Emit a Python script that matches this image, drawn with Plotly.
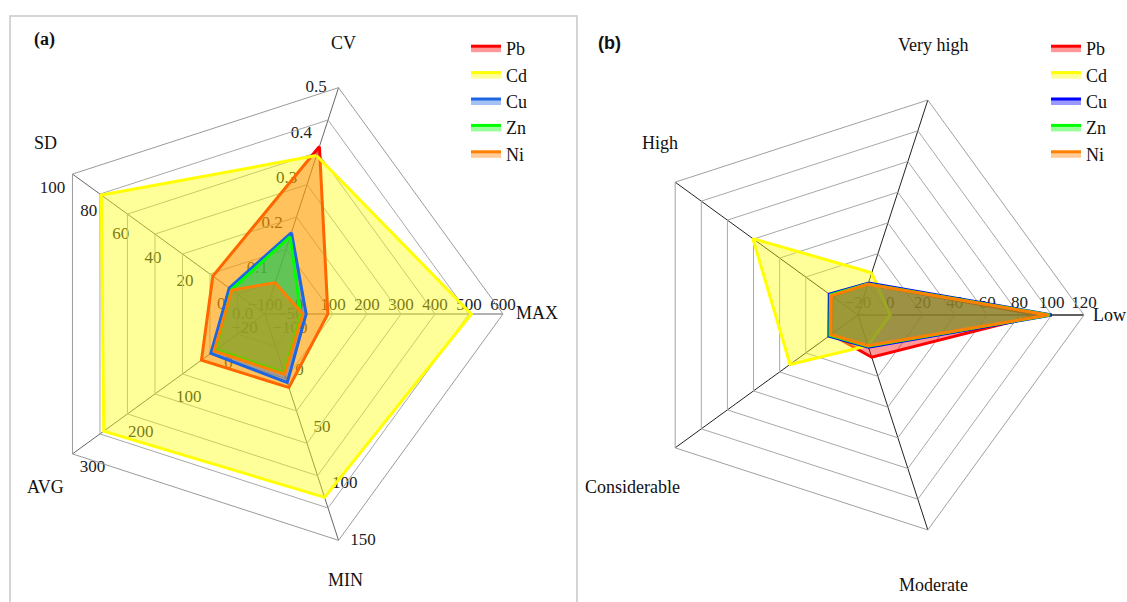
import plotly.graph_objects as go

# ---------------- data: panel (a) ----------------
a_axes = ["CV", "SD", "AVG", "MIN", "MAX"]
a_axis_min = [0.0, -20, -100, -50, -100]
a_axis_max = [0.5, 100, 300, 150, 600]
a_axis_dtick = [0.1, 20, 100, 50, 100]
a_axis_angle = [72, 144, 216, 288, 0]

metals = ["Pb", "Cd", "Cu", "Zn", "Ni"]
pb_a = [0.37, 12.5, 32, 15, 85]
cd_a = [0.35, 82, 235, 112, 507]
cu_a = [0.18, 2.3, 12.4, 10.6, 21]
zn_a = [0.171, 0.9, 1.4, 1.9, 5]
ni_a = [0.069, 0.6, 5.7, 3.4, 11.5]

# ---------------- data: panel (b) ----------------
b_axes = ["Very high", "High", "Considerable", "Moderate", "Low"]
b_range = [-20, 120]
pb_b = [0, 0, 0.5, 7.5, 92]
cd_b = [7.5, 60.5, 32, 0, 0]
cu_b = [0.8, 2.0, 2.3, 1.0, 100]
zn_b = [0.2, 1.2, 1.5, 0.3, 99]
ni_b = [0, 0.5, 0.8, 0, 98]

line_a = ["rgb(255,0,0)", "rgb(255,255,0)", "rgb(28,102,228)", "rgb(0,255,0)", "rgb(255,128,0)"]
fill_a = ["rgba(255,0,0,0.4)", "rgba(255,255,0,0.4)", "rgba(28,102,228,0.4)", "rgba(0,255,0,0.4)", "rgba(255,128,0,0.4)"]
line_b = ["rgb(255,0,0)", "rgb(255,255,0)", "rgb(0,0,255)", "rgb(0,255,0)", "rgb(255,128,0)"]
fill_b = ["rgba(255,0,0,0.4)", "rgba(255,255,0,0.4)", "rgba(0,0,255,0.4)", "rgba(0,255,0,0.4)", "rgba(255,128,0,0.4)"]

W, H = 1127, 602
NRING = 7
SERIF = "Liberation Serif"


def dom(cx, cy, r):
    return dict(x=[(cx - r) / W, (cx + r) / W], y=[1 - (cy + r) / H, 1 - (cy - r) / H])


dom_a = dom(265, 314, 238)
dom_b = dom(858, 315, 226)

fig = go.Figure()
layout = {}

# label-only polar subplots for each axis of panel (a)
for i, name in enumerate(a_axes):
    pid = "polar" if i == 0 else f"polar{i + 1}"
    fig.add_trace(go.Scatterpolar(r=[], theta=[], subplot=pid, showlegend=False, hoverinfo="skip"))
    ang = a_axis_angle[i]
    ta = ang if ang <= 180 else ang - 360
    layout[pid] = dict(
        domain=dom_a,
        bgcolor="rgba(0,0,0,0)",
        angularaxis=dict(visible=False),
        radialaxis=dict(
            range=[a_axis_min[i], a_axis_max[i]],
            dtick=a_axis_dtick[i],
            tick0=a_axis_min[i],
            tickformat=".1f" if name == "CV" else "d",
            angle=ang,
            side="counterclockwise",
            tickangle=ta,
            showgrid=False,
            showline=False,
            ticks="",
            tickfont=dict(family=SERIF, size=17, color="#222"),
        ),
    )

# data polar for panel (a) (normalised to the shared ring grid)
series_a = [pb_a, cd_a, cu_a, zn_a, ni_a]
for k, vals in enumerate(series_a):
    r = [NRING * (v - a_axis_min[j]) / (a_axis_max[j] - a_axis_min[j]) for j, v in enumerate(vals)]
    fig.add_trace(go.Scatterpolar(
        r=r + r[:1], theta=a_axes + a_axes[:1], subplot="polar6", mode="lines",
        fill="toself", fillcolor=fill_a[k], line=dict(color=line_a[k], width=3),
        name=metals[k], legend="legend", customdata=vals + vals[:1],
        hovertemplate="%{theta}: %{customdata}<extra>" + metals[k] + "</extra>",
    ))

layout["polar6"] = dict(
    domain=dom_a,
    bgcolor="rgba(0,0,0,0)",
    gridshape="linear",
    angularaxis=dict(
        categoryorder="array", categoryarray=a_axes, rotation=72, direction="counterclockwise",
        showgrid=True, gridcolor="#666", gridwidth=1, linecolor="#9a9a9a", linewidth=1,
        showticklabels=False, ticks="",
    ),
    radialaxis=dict(
        range=[0, NRING], dtick=1, showticklabels=False, ticks="", showline=False,
        gridcolor="#a8a8a8", gridwidth=1,
    ),
)

# data polar for panel (b)
series_b = [pb_b, cd_b, cu_b, zn_b, ni_b]
for k, vals in enumerate(series_b):
    fig.add_trace(go.Scatterpolar(
        r=vals + vals[:1], theta=b_axes + b_axes[:1], subplot="polar7", mode="lines",
        fill="toself", fillcolor=fill_b[k], line=dict(color=line_b[k], width=3),
        name=metals[k], legend="legend2",
    ))

layout["polar7"] = dict(
    domain=dom_b,
    bgcolor="rgba(0,0,0,0)",
    gridshape="linear",
    angularaxis=dict(
        categoryorder="array", categoryarray=b_axes, rotation=72, direction="counterclockwise",
        showgrid=True, gridcolor="#222", gridwidth=1, linecolor="#a0a0a0", linewidth=1,
        showticklabels=False, ticks="",
    ),
    radialaxis=dict(
        range=b_range, dtick=20, angle=0, side="counterclockwise", layer="below traces",
        showline=True, linecolor="#333", ticks="", gridcolor="#a8a8a8", gridwidth=1,
        tickfont=dict(family=SERIF, size=17, color="#222"),
    ),
)

legend_common = dict(
    font=dict(family=SERIF, size=18, color="#111"),
    bgcolor="rgba(0,0,0,0)", yanchor="top", xanchor="left", tracegroupgap=0,
    itemwidth=30,
)
layout["legend"] = dict(x=466 / W, y=1 - 30 / H, **legend_common)
layout["legend2"] = dict(x=1046 / W, y=1 - 30 / H, **legend_common)

# axis titles (category names) placed outside each spoke
title_pos_a = {"CV": (343, 43), "SD": (45, 143), "AVG": (45, 487), "MIN": (345, 580), "MAX": (537, 313)}
title_pos_b = {"Very high": (933, 45), "High": (660, 143), "Considerable": (632, 487),
               "Moderate": (933, 585), "Low": (1109, 315)}

annotations = [
    dict(text="<b>(a)</b>", x=32 / W, y=1 - 40 / H, xref="paper", yref="paper",
         xanchor="left", yanchor="middle", showarrow=False,
         font=dict(family=SERIF, size=18, color="#111")),
    dict(text="<b>(b)</b>", x=596 / W, y=1 - 43 / H, xref="paper", yref="paper",
         xanchor="left", yanchor="middle", showarrow=False,
         font=dict(family="Liberation Sans", size=18, color="#111")),
]
for name in a_axes:
    px, py = title_pos_a[name]
    annotations.append(dict(text=name, x=px / W, y=1 - py / H, xref="paper", yref="paper",
                            xanchor="center", yanchor="middle", showarrow=False,
                            font=dict(family=SERIF, size=18, color="#111")))
for name in b_axes:
    px, py = title_pos_b[name]
    annotations.append(dict(text=name, x=px / W, y=1 - py / H, xref="paper", yref="paper",
                            xanchor="center", yanchor="middle", showarrow=False,
                            font=dict(family=SERIF, size=18, color="#111")))

fig.update_layout(
    width=W, height=H, margin=dict(l=0, r=0, t=0, b=0),
    font=dict(family=SERIF, color="#111"),
    paper_bgcolor="white", plot_bgcolor="white", showlegend=True,
    annotations=annotations,
    shapes=[
        dict(type="path", xref="paper", yref="paper",
             path=f"M {10 / W},0 L {10 / W},{1 - 16 / H} L {577 / W},{1 - 16 / H} L {577 / W},0",
             line=dict(color="#c8c8c8", width=1.5)),
    ],
    **layout,
)

fig.write_html("out.html", config={"displayModeBar": False},
               post_script="document.body.style.margin='0px';")
